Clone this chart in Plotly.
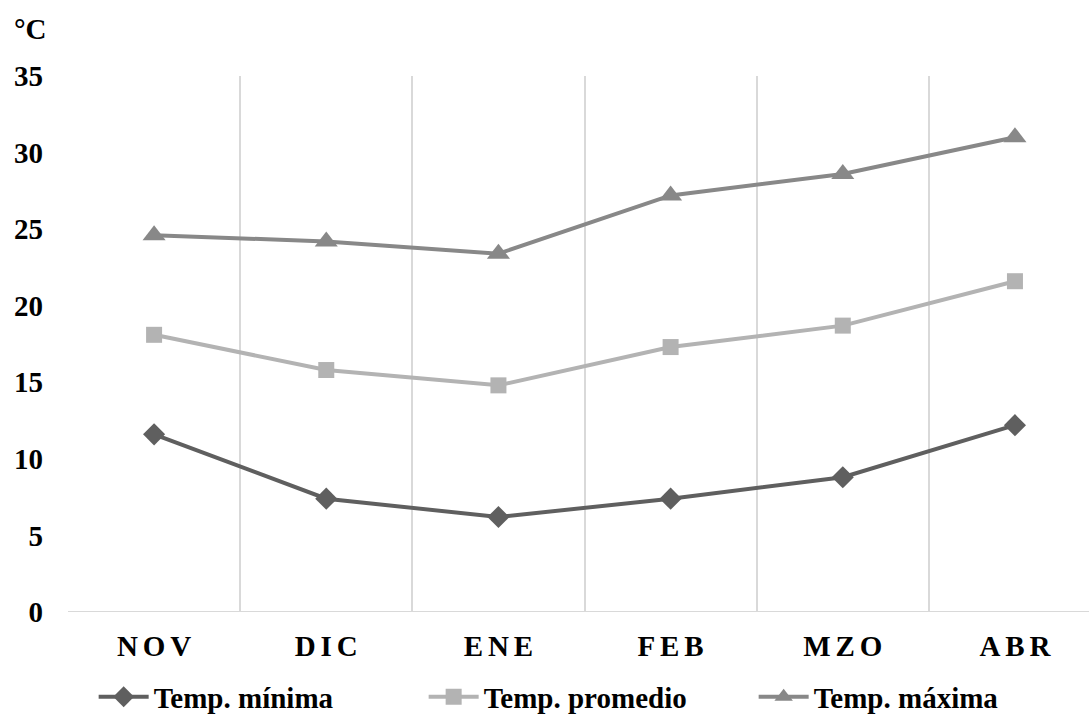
import plotly.graph_objects as go

months = ["NOV", "DIC", "ENE", "FEB", "MZO", "ABR"]
temp_min = [11.6, 7.4, 6.2, 7.4, 8.8, 12.2]
temp_prom = [18.1, 15.8, 14.8, 17.3, 18.7, 21.6]
temp_max = [24.6, 24.2, 23.4, 27.2, 28.6, 31.0]
y_ticks = [0, 5, 10, 15, 20, 25, 30, 35]

FONT = "Liberation Serif"
FS = 29
x = list(range(len(months)))
spaced = ["\u2006".join(m) for m in months]

fig = go.Figure()
series = [
    ("Temp. mínima", temp_min, "#5f5f5f", "diamond", 17),
    ("Temp. promedio", temp_prom, "#b3b3b3", "square", 16),
    ("Temp. máxima", temp_max, "#888888", "triangle-up", 20),
]
for name, vals, col, sym, sz in series:
    fig.add_trace(go.Scatter(
        x=x, y=vals, name=name, mode="lines+markers",
        line=dict(color=col, width=4),
        marker=dict(symbol=sym, size=sz, color=col),
    ))

# invisible trace on secondary x-axis for between-category gridlines
fig.add_trace(go.Scatter(x=[-0.5], y=[0], xaxis="x2", showlegend=False,
                         mode="markers", marker=dict(opacity=0), hoverinfo="skip"))

bold = dict(family=FONT, size=FS, color="black", weight="bold")
xr = [-0.5, 5.43]
fig.update_layout(
    width=1089, height=717,
    margin=dict(l=68, r=0, t=76, b=105, autoexpand=False),
    paper_bgcolor="white", plot_bgcolor="white",
    font=bold,
    xaxis=dict(range=xr, tickvals=x, ticktext=spaced, showgrid=False,
               zeroline=False, showline=False, ticks="",
               tickfont=bold, ticklabelstandoff=14),
    xaxis2=dict(range=xr, overlaying="x", tickvals=[0.5, 1.5, 2.5, 3.5, 4.5, -0.5],
                showticklabels=False, showgrid=True, gridcolor="#d9d9d9", gridwidth=2,
                zeroline=False, ticks="", side="bottom"),
    yaxis=dict(range=[0, 35], tickvals=y_ticks, showgrid=False, zeroline=False,
               showline=False, ticks="", ticklabelstandoff=24, tickfont=bold),
    legend=dict(orientation="h", x=0.086, xanchor="left", xref="container",
                yref="container", y=0.028, yanchor="middle",
                font=bold, itemwidth=50, entrywidth=265, traceorder="normal"),
    showlegend=True,
)
fig.add_hline(y=0, line=dict(color="#d9d9d9", width=2), layer="below")
fig.add_annotation(text="°C", x=0, y=1, xref="paper", yref="paper",
                   xanchor="left", yanchor="bottom", showarrow=False, xshift=-56, yshift=29,
                   font=bold)
fig.write_html("out.html")
